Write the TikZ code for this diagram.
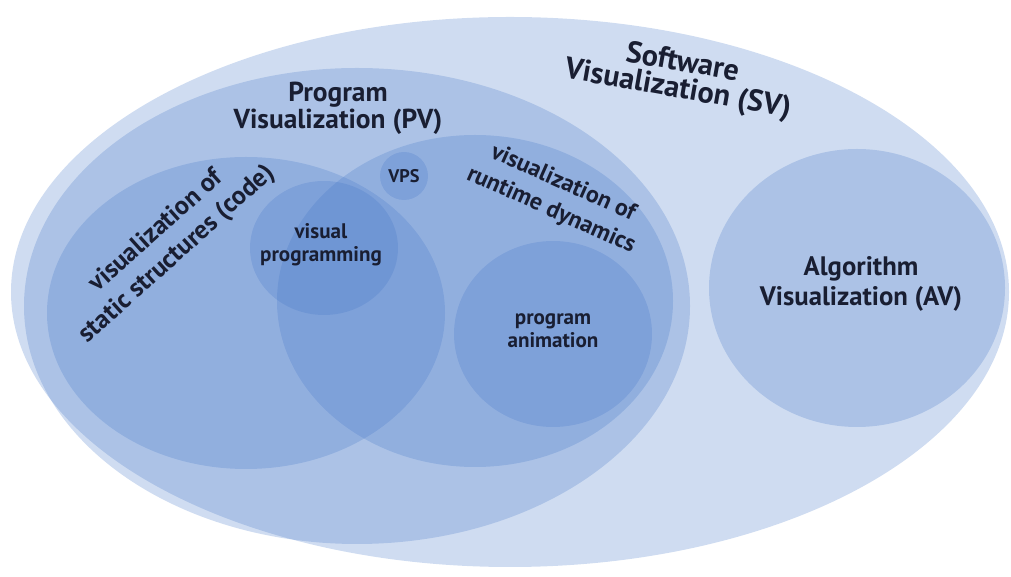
\documentclass[tikz,border=0pt]{standalone}
\usepackage{fontspec}
\setmainfont{PT Sans}
\usepackage{tikz}
\usepackage{xcolor}

\definecolor{venn}{RGB}{70,120,200}
\definecolor{ink}{RGB}{25,30,50}

\begin{document}
\begin{tikzpicture}[x=0.025cm,y=0.025cm,
  area/.style={fill=venn,fill opacity=0.26,draw=none},
  lbl/.style={text=ink,align=center,inner sep=0pt},
  big/.style={font=\bfseries\fontsize{19.5}{19}\selectfont},
  mid/.style={font=\bfseries\fontsize{17}{21}\selectfont},
  small/.style={font=\bfseries\fontsize{15}{16.5}\selectfont},
]
\useasboundingbox (0,0) rectangle (1011,577);
% nested sets
\fill[area] (510,285) ellipse (499 and 275);
\fill[area] (357,271) ellipse (333 and 238);
\fill[area] (857,289) ellipse (148 and 139);
\fill[area] (246,264) ellipse (199 and 156);
\fill[area] (475,276) ellipse (198 and 166);
\fill[area] (324,329) ellipse (74 and 67);
\fill[area] (404,401) circle (24);
\fill[area] (553,243) ellipse (99 and 93);
% labels
\node[lbl,font=\bfseries\fontsize{21.5}{19}\selectfont,rotate=-10] (sv) at (680,500) {Software\\Visualization (SV)};
\node[lbl,big] (pv) at (338,469) {Program\\Visualization (PV)};
\node[lbl,big,font=\bfseries\fontsize{19}{21.5}\selectfont] (av) at (861,293) {Algorithm\\Visualization (AV)};
\node[lbl,mid,font=\bfseries\fontsize{18.5}{22}\selectfont,rotate=42] (static) at (167,334) {visualization of\\static structures (code)};
\node[lbl,mid,rotate=-24] (runtime) at (557,380) {visualization of\\runtime dynamics};
\node[lbl,font=\bfseries\fontsize{13}{15}\selectfont] (vps) at (404,401) {VPS};
\node[lbl,small] (visprog) at (321,332) {visual\\programming};
\node[lbl,small] (anim) at (553,246) {program\\animation};
\end{tikzpicture}
\end{document}
